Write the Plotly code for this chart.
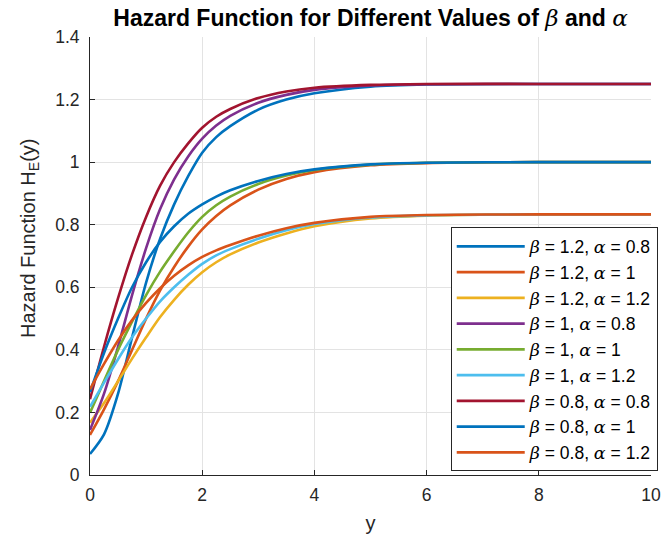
import plotly.graph_objects as go

x_vals = [0, 0.25, 0.5, 0.75, 1, 1.25, 1.5, 1.75, 2, 2.25, 2.5, 3, 3.5, 4, 5, 6, 8, 10]

h_b12_a08 = [0.067, 0.13, 0.26, 0.44, 0.615, 0.755, 0.865, 0.955, 1.03, 1.08, 1.115, 1.168, 1.2, 1.22, 1.241, 1.248, 1.25, 1.25]
h_b12_a10 = [0.128, 0.21, 0.30, 0.40, 0.50, 0.59, 0.665, 0.73, 0.785, 0.828, 0.862, 0.912, 0.946, 0.968, 0.99, 0.997, 1.0, 1.0]
h_b12_a12 = [0.167, 0.23, 0.30, 0.372, 0.44, 0.505, 0.56, 0.608, 0.648, 0.68, 0.705, 0.743, 0.772, 0.795, 0.82, 0.829, 0.833, 0.833]
h_b10_a08 = [0.144, 0.26, 0.41, 0.575, 0.725, 0.85, 0.945, 1.018, 1.075, 1.117, 1.148, 1.19, 1.215, 1.231, 1.245, 1.249, 1.25, 1.25]
h_b10_a10 = [0.199, 0.30, 0.40, 0.49, 0.575, 0.65, 0.715, 0.775, 0.825, 0.862, 0.89, 0.93, 0.957, 0.975, 0.992, 0.998, 1.0, 1.0]
h_b10_a12 = [0.218, 0.295, 0.37, 0.44, 0.50, 0.555, 0.60, 0.64, 0.675, 0.702, 0.722, 0.755, 0.782, 0.802, 0.823, 0.830, 0.833, 0.833]
h_b08_a08 = [0.242, 0.41, 0.565, 0.705, 0.825, 0.925, 1.0, 1.06, 1.11, 1.145, 1.17, 1.205, 1.226, 1.238, 1.247, 1.25, 1.25, 1.25]
h_b08_a10 = [0.265, 0.39, 0.50, 0.60, 0.68, 0.745, 0.795, 0.835, 0.865, 0.89, 0.91, 0.94, 0.962, 0.977, 0.993, 0.998, 1.0, 1.0]
h_b08_a12 = [0.274, 0.355, 0.43, 0.495, 0.55, 0.597, 0.637, 0.67, 0.697, 0.718, 0.735, 0.765, 0.789, 0.806, 0.825, 0.831, 0.833, 0.833]

series = [
    ("1.2", "0.8", h_b12_a08, "#0072BD"),
    ("1.2", "1", h_b12_a10, "#D95319"),
    ("1.2", "1.2", h_b12_a12, "#EDB120"),
    ("1", "0.8", h_b10_a08, "#7E2F8E"),
    ("1", "1", h_b10_a10, "#77AC30"),
    ("1", "1.2", h_b10_a12, "#4DBEEE"),
    ("0.8", "0.8", h_b08_a08, "#A2142F"),
    ("0.8", "1", h_b08_a10, "#0072BD"),
    ("0.8", "1.2", h_b08_a12, "#D95319"),
]

x_ticks = [0, 2, 4, 6, 8, 10]
y_ticks = [0, 0.2, 0.4, 0.6, 0.8, 1, 1.2, 1.4]
y_tick_text = ["0", "0.2", "0.4", "0.6", "0.8", "1", "1.2", "1.4"]

SANS = "Liberation Sans, Arial, Helvetica"
GREEK = "<span style=\"font-family:'DejaVu Serif';font-weight:normal\"><i>{}</i></span>"
beta = GREEK.format("β")
alpha = GREEK.format("α")

fig = go.Figure()
for b, a, vals, col in series:
    fig.add_trace(go.Scatter(
        x=x_vals, y=vals, mode="lines",
        line=dict(color=col, width=2.6, shape="spline", smoothing=0.8),
        name=f"{beta} = {b}, {alpha} = {a}",
    ))

axis_common = dict(
    showgrid=True, gridcolor="#E3E3E3", gridwidth=1,
    zeroline=False, showline=True, linecolor="#262626", linewidth=1,
    ticks="inside", ticklen=5, tickcolor="#262626",
    tickfont=dict(family=SANS, size=17.5, color="#262626"),
    mirror=False,
)

fig.update_layout(
    width=662, height=541,
    margin=dict(l=90, r=11, t=37, b=66, autoexpand=False),
    paper_bgcolor="white", plot_bgcolor="white",
    title=dict(
        text=f"<b>Hazard Function for Different Values of {beta} and {alpha}</b>",
        x=0.5, xref="paper", xanchor="center",
        y=1 - 18 / 541, yanchor="middle",
        font=dict(family=SANS, size=23, color="black"),
    ),
    xaxis=dict(
        range=[0, 10], tickvals=x_ticks,
        ticklabelstandoff=4,
        title=dict(text="y", font=dict(family=SANS, size=20, color="#262626"), standoff=11),
        **axis_common,
    ),
    yaxis=dict(
        range=[0, 1.4], tickvals=y_ticks, ticktext=y_tick_text,
        ticklabelstandoff=6,
        **axis_common,
    ),
    legend=dict(
        x=1.012, xanchor="right", y=0.008, yanchor="bottom",
        bgcolor="white", bordercolor="#262626", borderwidth=1,
        font=dict(family=SANS, size=17.5, color="black"),
        tracegroupgap=0, itemwidth=68,
    ),
    showlegend=True,
    annotations=[dict(
        text="Hazard Function H<sub>E</sub>(y)",
        xref="paper", yref="paper",
        x=(30 - 90) / 560.5, y=(475 - 238) / 438,
        xanchor="center", yanchor="middle",
        textangle=-90, showarrow=False,
        font=dict(family=SANS, size=20, color="#262626"),
    )],
)

fig.write_html("out.html")
